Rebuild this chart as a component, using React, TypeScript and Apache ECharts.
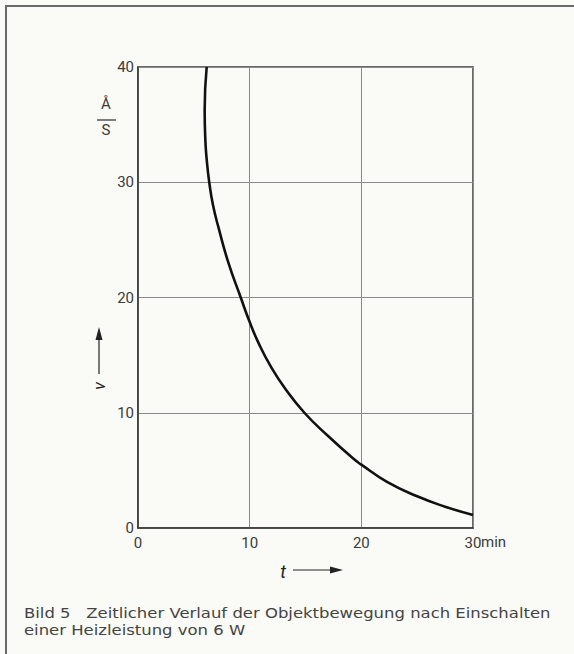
import React, { useEffect, useRef } from "react";
import * as echarts from "echarts";

// time in minutes
const tValues = [6.15, 5.97, 6.04, 6.15, 6.38, 6.72, 7.2, 8.1, 9.2, 9.95, 10.82, 11.9, 13.25, 14.9, 17.0, 19.3, 20.0, 22.3, 25.0, 27.5, 30.0];
// velocity in Å/s
const vValues = [40.0, 36.3, 33.5, 32.0, 30.0, 28.0, 26.1, 23.0, 20.0, 18.0, 16.0, 14.0, 12.0, 10.0, 8.0, 6.0, 5.5, 4.0, 2.75, 1.85, 1.13];

const xTicks = [0, 10, 20, 30];
const yTicks = [0, 10, 20, 30, 40];

const captionLine1 = "Bild 5   Zeitlicher Verlauf der Objektbewegung nach Einschalten";
const captionLine2 = "einer Heizleistung von 6 W";

const TICK_FONT = "Roboto, 'Liberation Sans', sans-serif";
const CAP_FONT = "'DejaVu Sans', 'Noto Sans', sans-serif";

export default function App() {
  const ref = useRef<HTMLDivElement>(null);
  useEffect(() => {
    if (!ref.current) return;
    const chart = echarts.init(ref.current, undefined, { renderer: "svg" });
    const data = tValues.map((t, i) => [t, vValues[i]]);
    chart.setOption({
      animation: false,
      backgroundColor: "#fafaf7",
      grid: {
        left: 138,
        top: 67,
        width: 335,
        height: 461,
        show: true,
        borderColor: "#3a3a3a",
        borderWidth: 1.5,
        backgroundColor: "transparent",
      },
      xAxis: {
        type: "value",
        min: 0,
        max: 30,
        interval: 10,
        axisLine: { show: true, lineStyle: { color: "#3a3a3a", width: 1.5 } },
        axisTick: { show: false },
        splitLine: { show: true, lineStyle: { color: "#8a8a8a", width: 1 } },
        axisLabel: {
          margin: 7,
          fontFamily: TICK_FONT,
          fontSize: 15,
          color: "#3a3a3a",
          formatter: (v: number) => (xTicks.includes(v) ? String(v) : ""),
        },
      },
      yAxis: {
        type: "value",
        min: 0,
        max: 40,
        interval: 10,
        axisLine: { show: true, lineStyle: { color: "#3a3a3a", width: 1.5 } },
        axisTick: { show: false },
        splitLine: { show: true, lineStyle: { color: "#8a8a8a", width: 1 } },
        axisLabel: {
          margin: 4,
          fontFamily: TICK_FONT,
          fontSize: 15,
          color: "#3a3a3a",
          formatter: (v: number) => (yTicks.includes(v) ? String(v) : ""),
        },
      },
      series: [
        {
          type: "line",
          data,
          smooth: 0.5,
          showSymbol: false,
          lineStyle: { color: "#111", width: 2.6 },
        },
      ],
      graphic: [
        // scan frame edges
        { type: "line", shape: { x1: 5, y1: 6, x2: 574, y2: 6 }, style: { stroke: "#6a6a6a", lineWidth: 2 } },
        { type: "line", shape: { x1: 6, y1: 5, x2: 6, y2: 654 }, style: { stroke: "#6a6a6a", lineWidth: 2 } },
        // unit fraction Å / s
        { type: "text", x: 106, y: 104, style: { text: "Å", font: `15px ${TICK_FONT}`, fill: "#3a3a3a", textAlign: "center", textVerticalAlign: "middle" } },
        { type: "line", shape: { x1: 97, y1: 120, x2: 116, y2: 120 }, style: { stroke: "#3a3a3a", lineWidth: 1.3 } },
        { type: "text", x: 106, y: 130, style: { text: "S", font: `15px ${TICK_FONT}`, fill: "#3a3a3a", textAlign: "center", textVerticalAlign: "middle" } },
        // v with upward arrow
        { type: "text", x: 99, y: 386, rotation: Math.PI / 2, style: { text: "v", font: `italic 17px ${TICK_FONT}`, fill: "#222", textAlign: "center", textVerticalAlign: "middle" } },
        { type: "line", shape: { x1: 99, y1: 374, x2: 99, y2: 336 }, style: { stroke: "#222", lineWidth: 1.2 } },
        { type: "polygon", shape: { points: [[99, 327], [95.5, 340], [102.5, 340]] }, style: { fill: "#222" } },
        // t with right arrow
        { type: "text", x: 283, y: 571, style: { text: "t", font: `italic 18px ${TICK_FONT}`, fill: "#222", textAlign: "center", textVerticalAlign: "middle" } },
        { type: "line", shape: { x1: 293, y1: 570, x2: 332, y2: 570 }, style: { stroke: "#222", lineWidth: 1.2 } },
        { type: "polygon", shape: { points: [[343, 570], [330, 566.5], [330, 573.5]] }, style: { fill: "#222" } },
        // unit "min" after 30
        { type: "text", x: 481, y: 542, style: { text: "min", font: `15px ${TICK_FONT}`, fill: "#3a3a3a", textAlign: "left", textVerticalAlign: "middle" } },
        // caption
        { type: "text", x: 24, y: 613, scaleX: 1.136, style: { text: captionLine1, font: `14.5px ${CAP_FONT}`, fill: "#444", textAlign: "left", textVerticalAlign: "middle" } },
        { type: "text", x: 24, y: 630, scaleX: 1.136, style: { text: captionLine2, font: `14.5px ${CAP_FONT}`, fill: "#444", textAlign: "left", textVerticalAlign: "middle" } },
      ],
    });
    return () => chart.dispose();
  }, []);
  return (
    <div
      ref={ref}
      style={{ position: "absolute", left: 0, top: 0, width: 574, height: 654 }}
    />
  );
}
